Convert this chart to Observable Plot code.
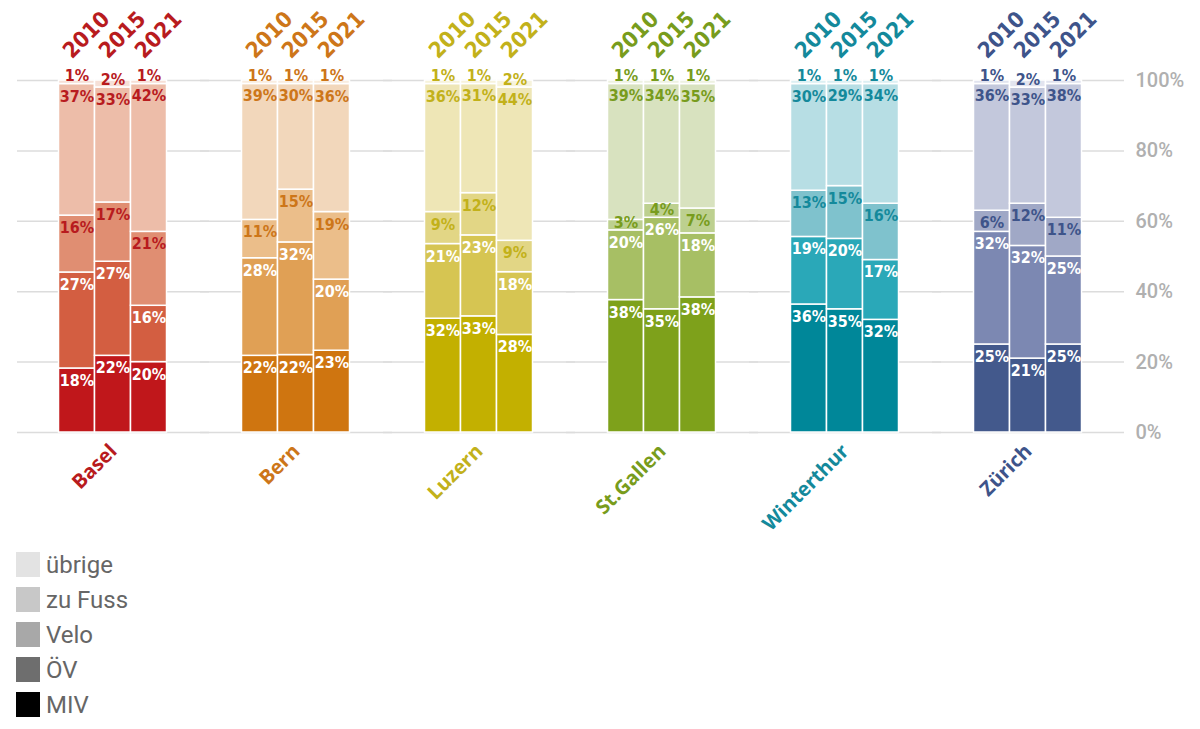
<!DOCTYPE html>
<html><head><meta charset="utf-8">
<script src="https://cdn.jsdelivr.net/npm/d3@7"></script>
<script src="https://cdn.jsdelivr.net/npm/@observablehq/plot@0.6"></script>
<style>
body{margin:0;background:#fff;font-family:Roboto,sans-serif;}
#legend{margin-left:16px;margin-top:7px}
.item{display:flex;align-items:center;height:35px;color:#666;font-size:24px}
.sw{width:24px;height:25px;margin-right:6px;flex:none}
</style></head><body>
<div id="chart"></div><div id="legend"></div>
<script>
const cities = ["Basel","Bern","Luzern","St.Gallen","Winterthur","Zürich"];
const years = ["2010","2015","2021"];
const modes = ["MIV","ÖV","Velo","zu Fuss","übrige"];
// values per mode, ordered city × year
const valMIV    = [18,22,20, 22,22,23, 32,33,28, 38,35,38, 36,35,32, 25,21,25];
const valOEV    = [27,27,16, 28,32,20, 21,23,18, 20,26,18, 19,20,17, 32,32,25];
const valVelo   = [16,17,21, 11,15,19,  9,12, 9,  3, 4, 7, 13,15,16,  6,12,11];
const valFuss   = [37,33,42, 39,30,36, 36,31,44, 39,34,35, 30,29,34, 36,33,38];
const valUebrig = [ 1, 2, 1,  1, 1, 1,  1, 1, 2,  1, 1, 1,  1, 1, 1,  1, 2, 1];
const yTicks = [0,20,40,60,80,100];

const cityText = ["#b81b1e","#cd7619","#c2b11a","#789c1c","#14899b","#3e548a"];
const shadeMIV    = ["#c0171b","#cf7510","#c3b000","#7ea11b","#008799","#43598c"];
const shadeOEV    = ["#d35e41","#e0a055","#d6c552","#a7bf64","#2aa8b8","#7c88b2"];
const shadeVelo   = ["#e08e72","#ebbe8a","#e2d685","#bdd08f","#7fc2cd","#a0a8c6"];
const shadeFuss   = ["#edbda9","#f2d7bb","#eee6b6","#d8e2bf","#b7dee4","#c3c8dc"];
const shadeUebrig = ["#f6e0d7","#f9ede0","#f7f3dc","#eef2e2","#ddf0f3","#e2e4ef"];
const legendColors = ["#000000","#6e6e6e","#a8a8a8","#c8c8c8","#e3e3e3"];

const series = [valMIV, valOEV, valVelo, valFuss, valUebrig];
const shades = [shadeMIV, shadeOEV, shadeVelo, shadeFuss, shadeUebrig];

const rows = [];
const yearRows = [];
cities.forEach((city, ci) => {
  years.forEach((year, yi) => {
    const idx = ci * 3 + yi;
    const vals = series.map(s => s[idx]);
    const total = d3.sum(vals);
    let cum = 0;
    vals.forEach((v, k) => {
      const y1 = cum / total * 100;
      cum += v;
      const y2 = cum / total * 100;
      rows.push({
        city, year, mode: modes[k], value: v, y1, y2,
        ly: Math.max(y2 - 3.5, y1 + 2.2),
        fill: shades[k][ci],
        lfill: k < 2 ? "#ffffff" : cityText[ci],
        label: v + "%"
      });
    });
    yearRows.push({city, year, color: cityText[ci]});
  });
});
const cityRows = cities.map((city, ci) => ({city, color: cityText[ci]}));

const chart = Plot.plot({
  width: 1200, height: 540,
  marginTop: 80, marginBottom: 108, marginLeft: 20.5, marginRight: 81.5,
  fx: {domain: cities, padding: 0, axis: null},
  x: {domain: years, paddingInner: 0, paddingOuter: 1, axis: null},
  y: {domain: [0, 100], axis: null},
  color: {type: "identity"},
  marks: [
    Plot.ruleY(yTicks, {stroke: "#dcdcdc", strokeWidth: 1.5, insetLeft: -4, insetRight: -5}),
    Plot.axisY(yTicks, {anchor: "right", tickSize: 0, tickPadding: 16, tickFormat: d => d + "%",
      color: "#b0b0b0", fontSize: 20, fontFamily: "Roboto", fontWeight: 500, label: null}),
    Plot.rectY(rows, {fx: "city", x: "year", y1: "y1", y2: "y2", fill: "fill", stroke: "white", strokeWidth: 1.5}),
    Plot.text(rows, {fx: "city", x: "year", y: "ly", text: "label", fill: "lfill",
      fontSize: 16, fontWeight: "bold", fontFamily: "DejaVu Sans Condensed"}),
    Plot.text(yearRows, {fx: "city", x: "year", text: "year", frameAnchor: "top", dx: -5, dy: -21,
      rotate: -45, textAnchor: "start", lineAnchor: "bottom", fill: "color",
      fontSize: 22, fontWeight: "bold", fontFamily: "DejaVu Sans Condensed"}),
    Plot.text(cityRows, {fx: "city", text: "city", frameAnchor: "bottom", dx: 5, dy: 20,
      rotate: -45, textAnchor: "end", lineAnchor: "bottom", fill: "color",
      fontSize: 20, fontWeight: "bold", fontFamily: "Open Sans"})
  ]
});
document.getElementById("chart").appendChild(chart);

const legend = document.getElementById("legend");
const legendOrder = [4, 3, 2, 1, 0];
legendOrder.forEach(k => {
  const it = document.createElement("div");
  it.className = "item";
  const sw = document.createElement("div");
  sw.className = "sw";
  sw.style.background = legendColors[k];
  const tx = document.createElement("span");
  tx.textContent = modes[k];
  it.appendChild(sw); it.appendChild(tx);
  legend.appendChild(it);
});
</script>
</body></html>
